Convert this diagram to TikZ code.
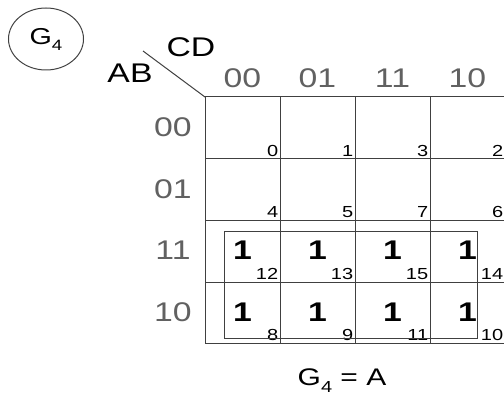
\documentclass[tikz,border=0pt]{standalone}
\usepackage{fontspec}
\setmainfont[FakeStretch=1.25]{Liberation Sans}
\usetikzlibrary{positioning,shapes.geometric}

\newcommand{\lowidx}[2]{\raisebox{#2}{\fontsize{#1}{#1}\selectfont 4}}

\begin{document}
\begin{tikzpicture}[
    x=1pt, y=-1pt,
    grid/.style={line width=1pt, black!75},
    header/.style={font=\fontsize{27}{27}\selectfont, text=black!62, inner sep=0pt},
    varname/.style={font=\fontsize{27}{27}\selectfont, inner sep=0pt},
    one/.style={font=\fontsize{27}{27}\selectfont\bfseries, inner sep=0pt},
    index/.style={font=\fontsize{16}{16}\selectfont, anchor=south east, inner sep=1.6pt},
    title/.style={ellipse, draw=black!75, line width=1pt, minimum width=75pt,
                  minimum height=62pt, inner sep=0pt, font=\fontsize{23}{23}\selectfont}
]
\useasboundingbox (0,0) rectangle (504,396);

% Coordinates
\coordinate (TL) at (205,97);
\coordinate (BR) at (505,343);
\coordinate (slash) at (143,51);
\coordinate (grpTL) at (224,231);
\coordinate (grpBR) at (477,338);

% Map name
\node[title] (g4) at (46,39) {G\lowidx{15}{-6pt}};

% Grid of the map
\draw[grid] (TL) rectangle (BR);
\foreach \x in {280,355,430}
    \draw[grid] (\x,97) -- (\x,343);
\foreach \y in {158,220,282}
    \draw[grid] (205,\y) -- (505,\y);
\draw[grid] (TL) -- (slash);

% Variables and Gray-code headers
\node[varname] (cd) at (191,47) {CD};
\node[varname] (ab) at (130,73) {AB};
\foreach \lab [count=\i from 0] in {00,01,11,10}
{
    \node[header] (col\i) at (242.5+75*\i,78) {\lab};
    \node[header] (row\i) at (173,127.5+61.5*\i) {\lab};
}

% Minterm numbers
\foreach \a/\b/\c/\d [count=\r from 0] in {0/1/3/2, 4/5/7/6, 12/13/15/14, 8/9/11/10}
    \foreach \m [count=\i from 0] in {\a,\b,\c,\d}
        \node[index] (m\m) at (280+75*\i,158+61.5*\r) {\m};

% Ones and their group
\foreach \r in {2,3}
    \foreach \c in {0,...,3}
        \node[one] (one\r\c) at (242.5+75*\c,127.5+61.5*\r) {1};
\draw[grid] (grpTL) rectangle (grpBR);

% Result
\node[font=\fontsize{24}{24}\selectfont, anchor=base, inner sep=0pt] (eq) at (342,385)
    {G\lowidx{16}{-7pt} = A};

\end{tikzpicture}
\end{document}
